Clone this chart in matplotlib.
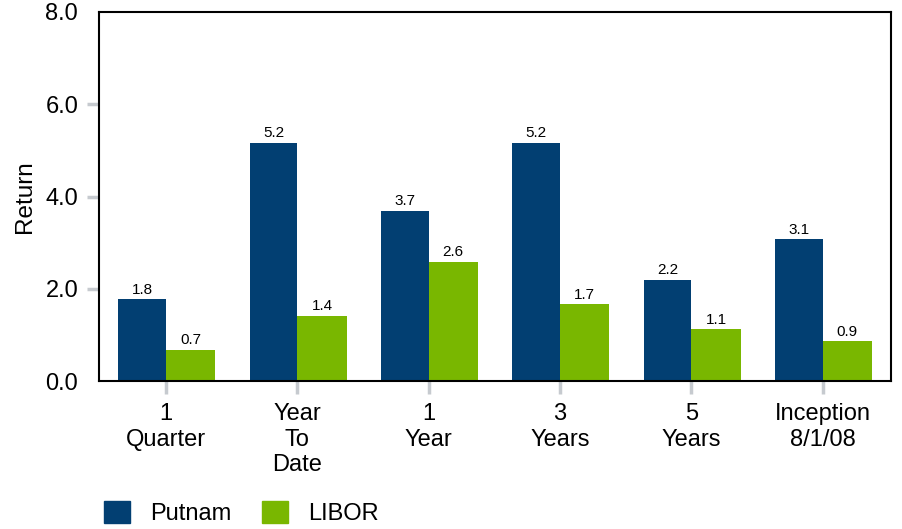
import numpy as np
import matplotlib
matplotlib.use("Agg")
import matplotlib.pyplot as plt
from matplotlib.patches import Patch

plt.rcParams['font.family'] = ['Liberation Sans', 'DejaVu Sans']

# data
periods = ["1\nQuarter", "Year\nTo\nDate", "1\nYear", "3\nYears", "5\nYears", "Inception\n8/1/08"]
putnam = [1.77, 5.17, 3.68, 5.17, 2.19, 3.07]
libor = [0.68, 1.42, 2.59, 1.66, 1.12, 0.86]
putnam_labels = ["1.8", "5.2", "3.7", "5.2", "2.2", "3.1"]
libor_labels = ["0.7", "1.4", "2.6", "1.7", "1.1", "0.9"]

navy = "#023f72"
green = "#79b700"
tick_grey = "#c6cacf"

fig = plt.figure(figsize=(9.02, 5.29), dpi=100)
ax = fig.add_axes([99/902, 1-381/529, (891-99)/902, (381-12)/529])

x = np.arange(len(periods))
w = 0.375
b1 = ax.bar(x, putnam, width=-w*0.97, align='edge', color=navy)
b2 = ax.bar(x, libor, width=w, align='edge', color=green)

for bars, labs in [(b1, putnam_labels), (b2, libor_labels)]:
    for rect, lab in zip(bars, labs):
        ax.annotate(lab, (rect.get_x() + rect.get_width()/2, rect.get_height()),
                    xytext=(0, 2), textcoords='offset points',
                    ha='center', va='bottom', fontsize=11)

ax.set_xlim(-0.51, 5.52)
ax.set_ylim(0, 8)
yt = [0, 2, 4, 6, 8]
ax.set_yticks(yt)
ax.set_yticklabels([f"{v:.1f}" for v in yt])
ax.set_xticks(x)
ax.set_xticklabels(periods, linespacing=1.2)
ax.tick_params(axis='both', colors=tick_grey, labelcolor='black', labelsize=17,
               length=9, width=2.5)
ax.tick_params(axis='y', pad=6)
ax.tick_params(axis='x', pad=7)
# no grey marks at the ends of the value axis
yticks = ax.yaxis.get_major_ticks()
yticks[0].tick1line.set_visible(False)
yticks[-1].tick1line.set_visible(False)
for s in ax.spines.values():
    s.set_color('black')
    s.set_linewidth(1.5)

ax.set_ylabel("Return", fontsize=17.5, labelpad=7)

handles = [Patch(color=navy, label="Putnam"), Patch(color=green, label="LIBOR")]
fig.legend(handles=handles, loc='center left', bbox_to_anchor=(104/902, 1-513/529),
           ncol=2, frameon=False, fontsize=17, handlelength=1.1, handleheight=1.1,
           handletextpad=0.85, columnspacing=1.3, borderpad=0, borderaxespad=0)

fig.savefig("out.png", dpi=100)
